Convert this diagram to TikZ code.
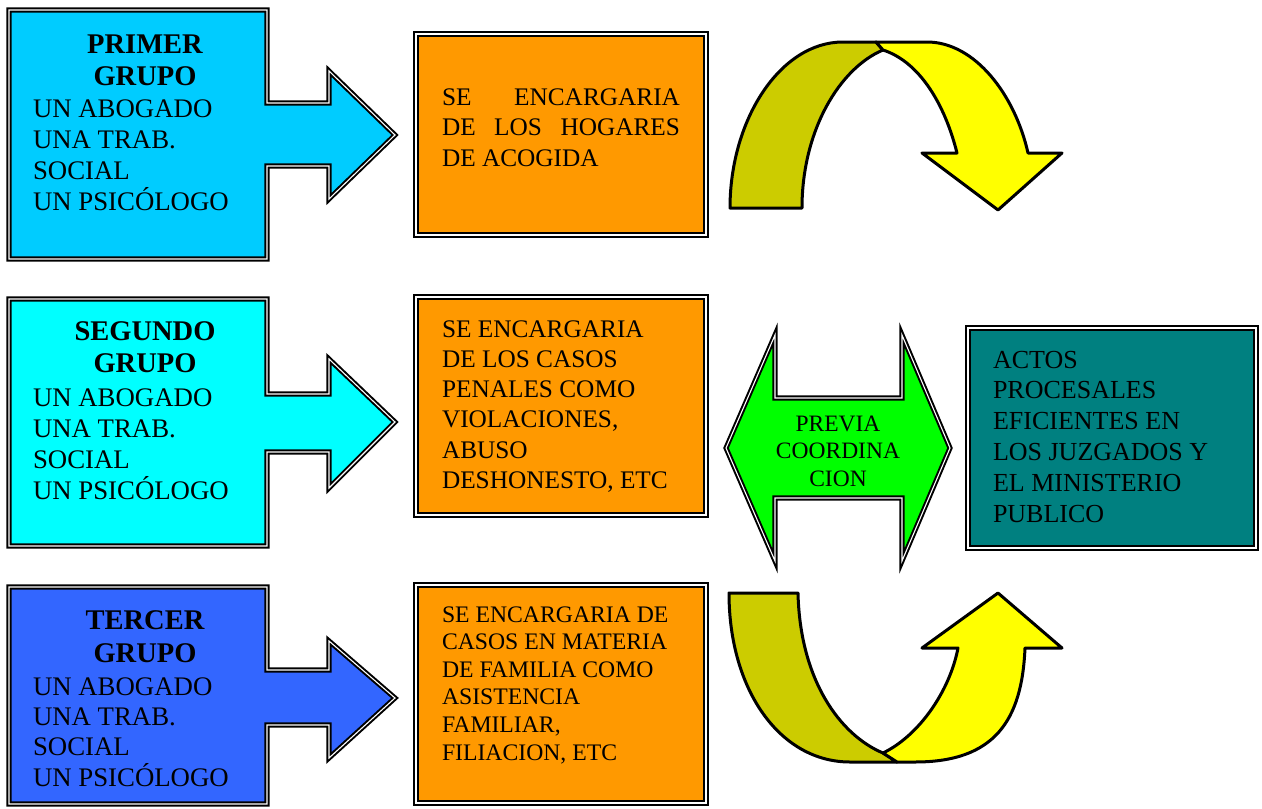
\documentclass[tikz,border=0pt]{standalone}
\usepackage{fontspec}
\setmainfont{Liberation Serif}
\definecolor{gone}{HTML}{00CCFF}
\definecolor{gtwo}{HTML}{00FFFF}
\definecolor{gthree}{HTML}{3366FF}
\definecolor{orng}{HTML}{FF9900}
\definecolor{tealc}{HTML}{008080}
\definecolor{grn}{HTML}{00FF00}
\definecolor{darkyel}{HTML}{CCCC00}
\definecolor{yel}{HTML}{FFFF00}
\tikzset{
  dbl/.style={draw=black, line width=2pt, double=white, double distance=1.1pt, line join=miter},
  curv/.style={draw=black, line width=3pt, line join=round},
  txt/.style={anchor=base west, inner sep=0pt, outer sep=0pt},
  ttl/.style={anchor=base, inner sep=0pt, outer sep=0pt}
}
\begin{document}
\begin{tikzpicture}[x=1pt,y=-1pt]
\useasboundingbox (0,0) rectangle (1262,809);

% group callouts
\path[dbl, fill=gone] (9,10) -- (267,10) -- (267,103) -- (329,103) -- (329,71) -- (395,135) -- (329,199) -- (329,166) -- (267,166) -- (267,259) -- (9,259) -- cycle;
\path[dbl, fill=gtwo] (9,299) -- (267,299) -- (267,394) -- (329,394) -- (329,359) -- (395,422) -- (329,488) -- (329,452) -- (267,452) -- (267,546) -- (9,546) -- cycle;
\path[dbl, fill=gthree] (9,587) -- (267,587) -- (267,670) -- (329,670) -- (329,641) -- (395,698) -- (329,758) -- (329,725) -- (267,725) -- (267,804) -- (9,804) -- cycle;

% orange boxes
\path[dbl, fill=orng] (416,34) rectangle (706,235);
\path[dbl, fill=orng] (416,297) rectangle (706,515);
\path[dbl, fill=orng] (416,585) rectangle (706,803);

% teal box
\path[dbl, fill=tealc] (968,328) rectangle (1256,548);

% green double arrow
\path[dbl, fill=grn] (726,448) -- (775,335) -- (775,398) -- (902,398) -- (902,335) -- (950,448) -- (902,561) -- (902,498) -- (775,498) -- (775,561) -- cycle;

% top curved arrow
\path[curv, fill=darkyel] (730,208) .. controls (730,120) and (780,42) .. (843,42) -- (876,42) -- (883,50) .. controls (840,68) and (802,130) .. (802,208) -- cycle;
\path[curv, fill=yel] (876,42) -- (927,42) .. controls (975,42) and (1015,95) .. (1028,153) -- (1062,153) -- (998,210) -- (922,153) -- (957,153) .. controls (945,105) and (920,62) .. (883,50) -- cycle;

% bottom curved arrow
\path[curv, fill=darkyel] (729,593) -- (798,593) .. controls (800,680) and (840,735) .. (883,753) -- (897,762) -- (850,762) .. controls (780,762) and (729,690) .. (729,593) -- cycle;
\path[curv, fill=yel] (883,753) .. controls (920,735) and (950,690) .. (958,648) -- (922,648) -- (998,593) -- (1062,648) -- (1025,648) .. controls (1022,720) and (995,762) .. (915,762) -- (897,762) -- cycle;

% group texts
\node[ttl] (g1t) at (145,53) {\parbox[t]{220pt}{\centering\fontsize{28.5}{32}\selectfont\bfseries PRIMER\\GRUPO}};
\node[txt] (g1m) at (33,117) {\parbox[t]{230pt}{\raggedright\fontsize{26.8}{31}\selectfont UN ABOGADO\\UNA TRAB.\\SOCIAL\\UN PSICÓLOGO}};
\node[ttl] (g2t) at (145,340) {\parbox[t]{220pt}{\centering\fontsize{28.5}{32}\selectfont\bfseries SEGUNDO\\GRUPO}};
\node[txt] (g2m) at (33,406) {\parbox[t]{230pt}{\raggedright\fontsize{26.8}{31}\selectfont UN ABOGADO\\UNA TRAB.\\SOCIAL\\UN PSICÓLOGO}};
\node[ttl] (g3t) at (145,629) {\parbox[t]{220pt}{\centering\fontsize{28.5}{33}\selectfont\bfseries TERCER\\GRUPO}};
\node[txt] (g3m) at (33,695) {\parbox[t]{230pt}{\raggedright\fontsize{26.8}{30.4}\selectfont UN ABOGADO\\UNA TRAB.\\SOCIAL\\UN PSICÓLOGO}};

% orange texts
\node[txt] (o1) at (442,105) {\parbox[t]{238pt}{\fontsize{25.3}{30.5}\selectfont SE\hfill ENCARGARIA\\DE\hfill LOS\hfill HOGARES\\DE ACOGIDA}};
\node[txt] (o2) at (442,337) {\parbox[t]{250pt}{\raggedright\fontsize{25.3}{30.3}\selectfont SE ENCARGARIA\\DE LOS CASOS\\PENALES COMO\\VIOLACIONES,\\ABUSO\\DESHONESTO, ETC}};
\node[txt] (o3) at (442,622) {\parbox[t]{250pt}{\raggedright\fontsize{23.7}{27.6}\selectfont SE ENCARGARIA DE\\CASOS EN MATERIA\\DE FAMILIA COMO\\ASISTENCIA\\FAMILIAR,\\FILIACION, ETC}};

% green text
\node[ttl] (gr) at (838,431) {\parbox[t]{160pt}{\centering\fontsize{23.5}{27.5}\selectfont PREVIA\\COORDINA\\CION}};

% teal text
\node[txt] (te) at (993,368) {\parbox[t]{250pt}{\raggedright\fontsize{26}{30.8}\selectfont ACTOS\\PROCESALES\\EFICIENTES EN\\LOS JUZGADOS Y\\EL MINISTERIO\\PUBLICO}};
\end{tikzpicture}
\end{document}
